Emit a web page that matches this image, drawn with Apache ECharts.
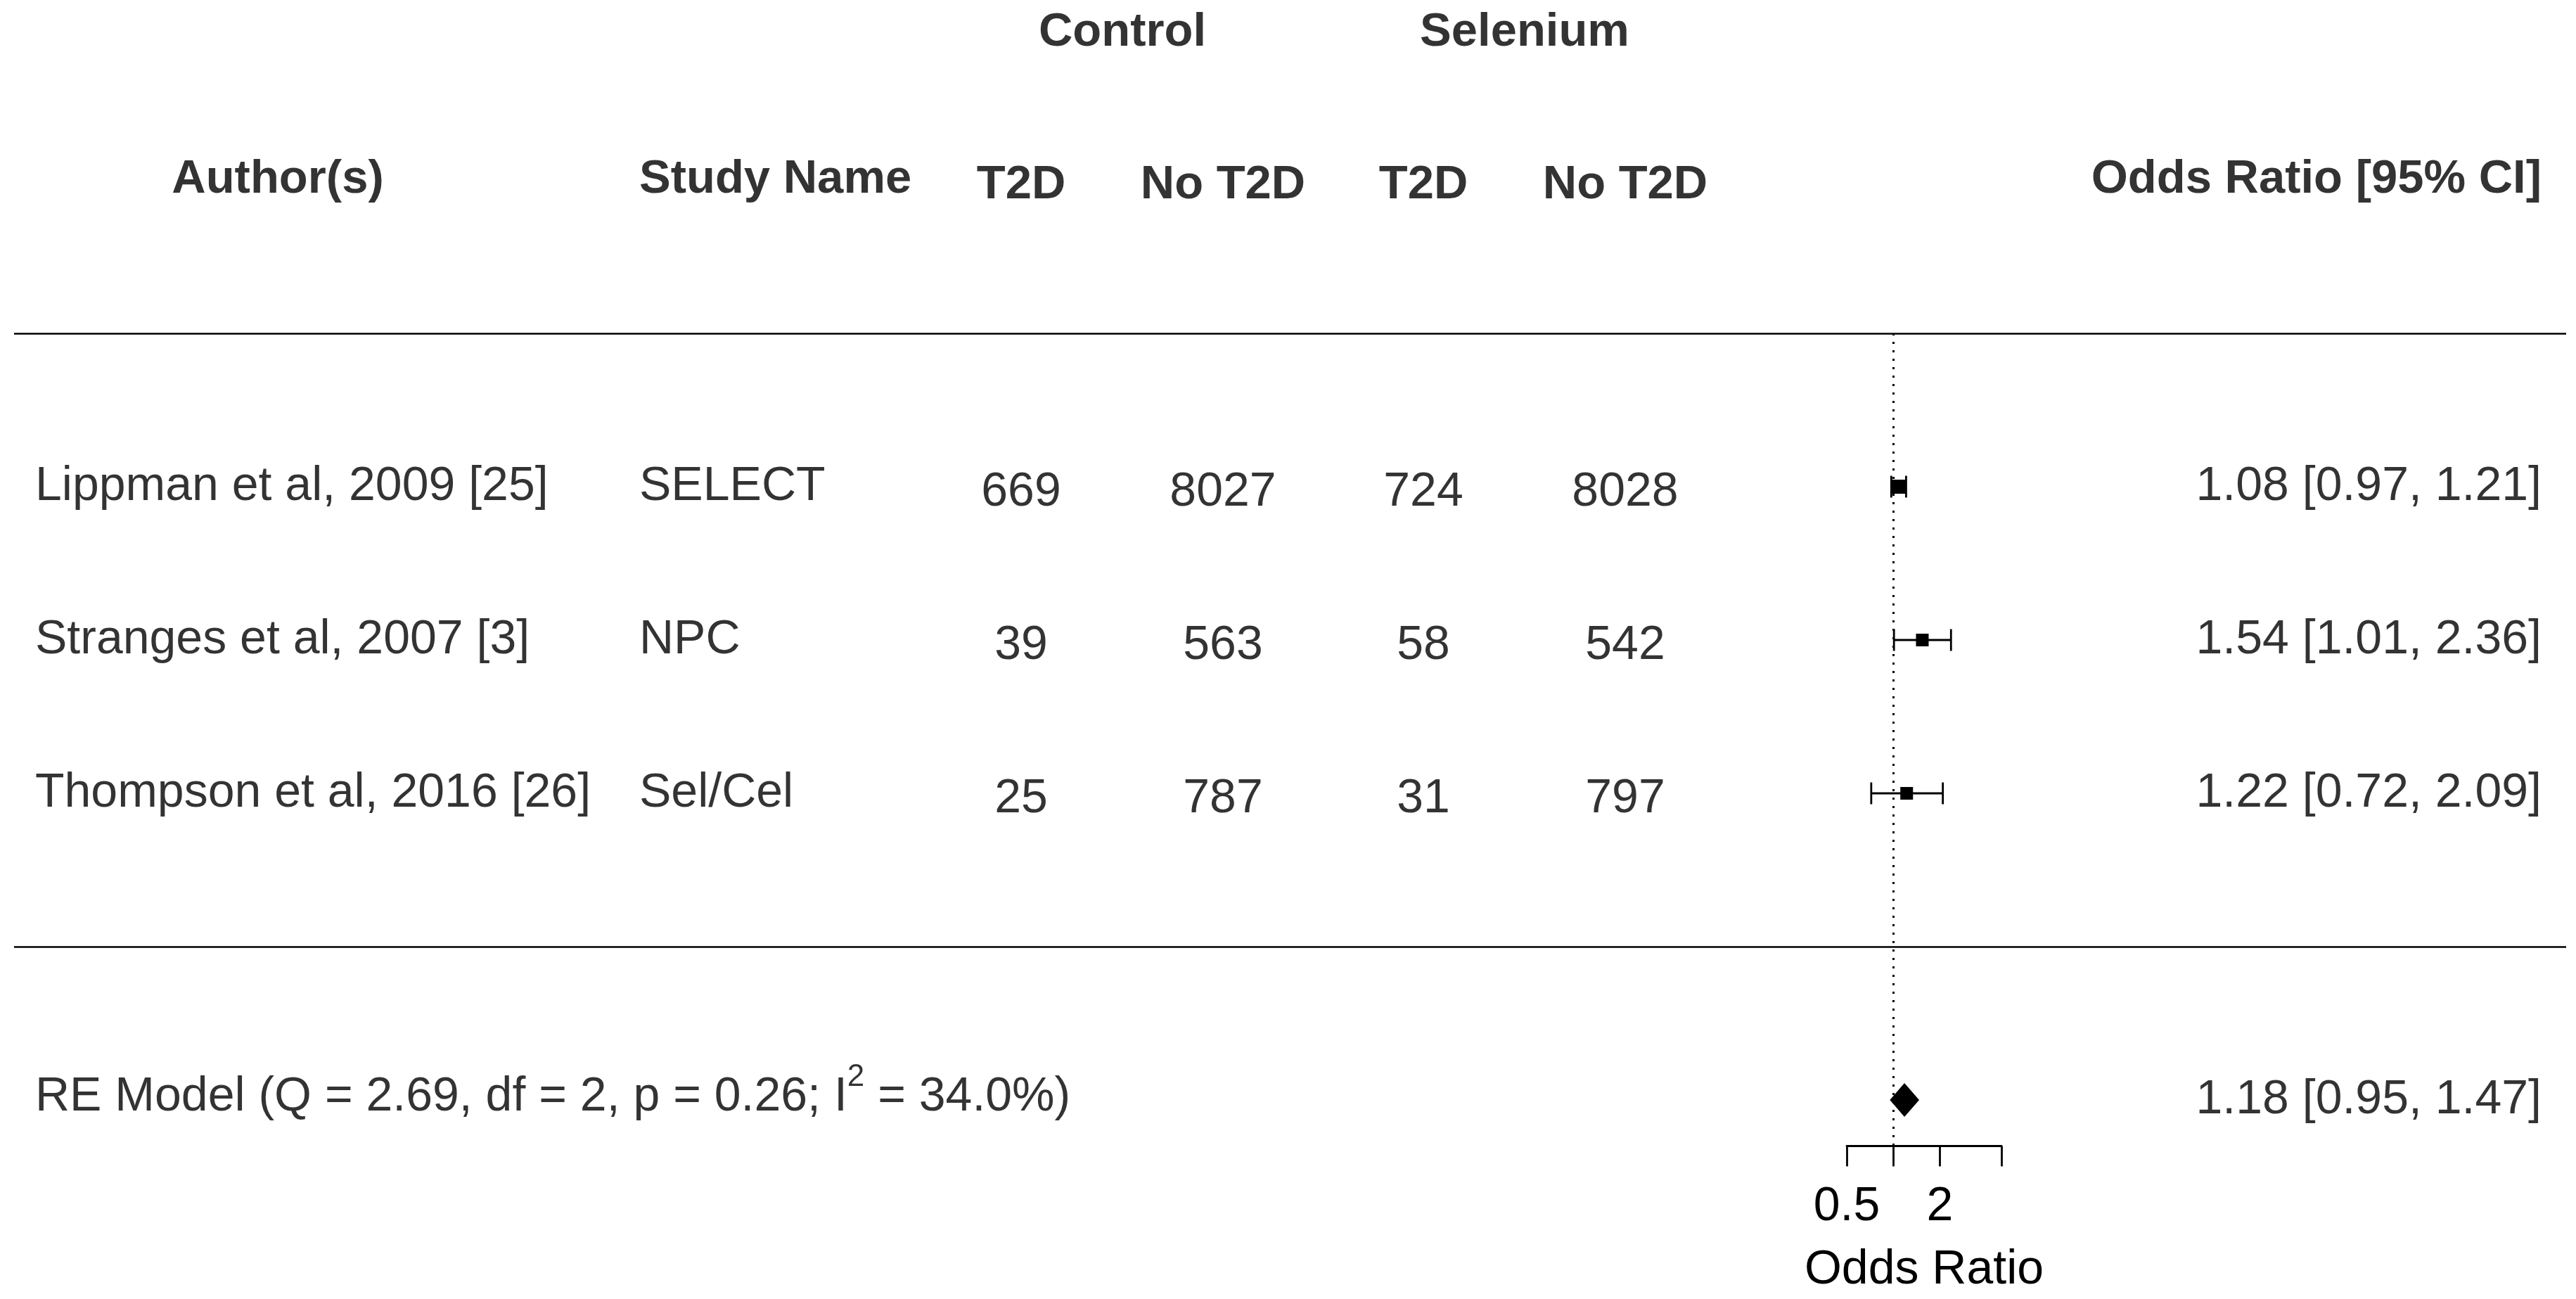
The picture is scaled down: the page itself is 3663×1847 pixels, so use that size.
<!DOCTYPE html>
<html>
<head>
<meta charset="utf-8">
<title>Forest plot - selenium and T2D</title>
<script src="https://cdn.jsdelivr.net/npm/echarts@6/dist/echarts.min.js"></script>
<style>
  html, body { margin: 0; padding: 0; background: #fff; }
  #main { width: 100vw; height: 100vh; }
</style>
</head>
<body>
<div id="main"></div>
<script>
// study data
const authors = ['Lippman et al, 2009 [25]', 'Stranges et al, 2007 [3]', 'Thompson et al, 2016 [26]'];
const studies = ['SELECT', 'NPC', 'Sel/Cel'];
const ctrlT2D = [669, 39, 25];
const ctrlNoT2D = [8027, 563, 787];
const selT2D = [724, 58, 31];
const selNoT2D = [8028, 542, 797];
const orEst = [1.08, 1.54, 1.22];
const orLow = [0.97, 1.01, 0.72];
const orHigh = [1.21, 2.36, 2.09];
const rowPos = [3, 2, 1];

// random effects summary
const reEst = 1.18;
const reLow = 0.95;
const reHigh = 1.47;
const reRow = -1;
const reStats = ['2.69', '2', '0.26', '34.0']; // Q, df, p, I^2

// axis
const tickValues = [0.5, 1, 2, 5];
const tickLabels = ['0.5', '', '2', ''];
const refValue = 1;

// layout (pixels)
var W = window.innerWidth, H = window.innerHeight;
var Y_MIN = -1.3, Y_MAX = 6.15;
var ROW_PX = 218, LINE4_PX = 474;
var gridTop = LINE4_PX - (Y_MAX - 4) * ROW_PX;
var gridBottom = H - (LINE4_PX + (4 - Y_MIN) * ROW_PX);
var COL = { author: 50, authorHead: 395, study: 909, c1: 1452, c2: 1739, s1: 2024, s2: 2311, ci: 3614 };
var TXT_SHIFT = 0;   // left / right columns
var NUM_SHIFT = 8;   // centred count columns
var FONT = '"Liberation Sans", Arial, Helvetica, sans-serif';
var boxSize = [20, 18, 18];

var chart = echarts.init(document.getElementById('main'), null, { renderer: 'canvas' });

function fmt(v) { return v.toFixed(2); }

function textSeries(data, align, bold, shift, size) {
    return {
        type: 'scatter',
        xAxisIndex: 1,
        yAxisIndex: 1,
        silent: true,
        clip: false,
        symbolSize: 1,
        itemStyle: { color: 'transparent' },
        data: data,
        label: {
            show: true,
            position: 'inside',
            align: align,
            verticalAlign: 'middle',
            offset: [0, shift],
            color: '#000',
            fontFamily: FONT,
            fontSize: size || (bold ? 67 : 68),
            fontWeight: bold ? 'bold' : 'normal',
            formatter: function (p) { return p.data[2]; }
        }
    };
}

var lnTicks = tickValues.map(function (v) { return Math.log(v); });
var lnLabelTicks = lnTicks.filter(function (v, i) { return tickLabels[i] !== ''; });

var ciData = rowPos.map(function (y, i) { return [Math.log(orLow[i]), Math.log(orHigh[i]), y]; });
var boxData = rowPos.map(function (y, i) {
    return { value: [Math.log(orEst[i]), y], symbolSize: boxSize[i] };
});

var headerRow = 5, groupRow = 6;

var series = [
    // CI lines with end caps
    {
        type: 'custom',
        xAxisIndex: 0,
        yAxisIndex: 0,
        silent: true,
        data: ciData,
        encode: { x: [0, 1], y: 2 },
        renderItem: function (params, api) {
            var lo = api.coord([api.value(0), api.value(2)]);
            var hi = api.coord([api.value(1), api.value(2)]);
            var h = 15.5;
            var st = { stroke: '#000', lineWidth: 2.8 };
            return {
                type: 'group',
                children: [
                    { type: 'line', shape: { x1: lo[0], y1: lo[1], x2: hi[0], y2: hi[1] }, style: st },
                    { type: 'line', shape: { x1: lo[0], y1: lo[1] - h, x2: lo[0], y2: lo[1] + h }, style: st },
                    { type: 'line', shape: { x1: hi[0], y1: hi[1] - h, x2: hi[0], y2: hi[1] + h }, style: st }
                ]
            };
        }
    },
    // point estimates + reference line
    {
        type: 'scatter',
        xAxisIndex: 0,
        yAxisIndex: 0,
        silent: true,
        symbol: 'rect',
        itemStyle: { color: '#000', opacity: 1 },
        data: boxData,
        markLine: {
            silent: true,
            symbol: 'none',
            label: { show: false },
            lineStyle: { color: '#000', width: 3, type: [3, 9] },
            data: [[{ coord: [Math.log(refValue), 4] }, { coord: [Math.log(refValue), Y_MIN] }]]
        }
    },
    // summary diamond
    {
        type: 'custom',
        xAxisIndex: 0,
        yAxisIndex: 0,
        silent: true,
        data: [[Math.log(reLow), Math.log(reEst), Math.log(reHigh), reRow]],
        encode: { x: [0, 2], y: 3 },
        renderItem: function (params, api) {
            var y = api.value(3);
            var l = api.coord([api.value(0), y]);
            var m = api.coord([api.value(1), y]);
            var r = api.coord([api.value(2), y]);
            var h = 24;
            return {
                type: 'polygon',
                shape: { points: [l, [m[0], m[1] - h], r, [m[0], m[1] + h]] },
                style: { fill: '#000' }
            };
        }
    },
    // horizontal rules
    {
        type: 'scatter',
        xAxisIndex: 1,
        yAxisIndex: 1,
        silent: true,
        data: [],
        markLine: {
            silent: true,
            symbol: 'none',
            label: { show: false },
            lineStyle: { color: '#000', width: 2.5, type: 'solid' },
            data: [{ yAxis: 4 }, { yAxis: 0 }]
        }
    },
    // headers
    textSeries([[COL.c1 + (COL.c2 - COL.c1) / 2 + 0.5, groupRow, 'Control'],
                [COL.s1 + (COL.s2 - COL.s1) / 2 + 0.5, groupRow, 'Selenium']], 'center', true, NUM_SHIFT + 1),
    textSeries([[COL.c1, headerRow, 'T2D'], [COL.c2, headerRow, 'No T2D'],
                [COL.s1, headerRow, 'T2D'], [COL.s2, headerRow, 'No T2D']], 'center', true, NUM_SHIFT),
    textSeries([[COL.authorHead, headerRow, 'Author(s)']], 'center', true, TXT_SHIFT),
    textSeries([[COL.study, headerRow, 'Study Name']], 'left', true, TXT_SHIFT),
    textSeries([[COL.ci, headerRow, 'Odds Ratio [95% CI]']], 'right', true, TXT_SHIFT),
    // study rows
    textSeries(rowPos.map(function (y, i) { return [COL.author, y, authors[i]]; }), 'left', false, TXT_SHIFT),
    textSeries(rowPos.map(function (y, i) { return [COL.study, y, studies[i]]; }), 'left', false, TXT_SHIFT),
    textSeries(rowPos.map(function (y, i) { return [COL.c1, y, String(ctrlT2D[i])]; }), 'center', false, NUM_SHIFT),
    textSeries(rowPos.map(function (y, i) { return [COL.c2, y, String(ctrlNoT2D[i])]; }), 'center', false, NUM_SHIFT),
    textSeries(rowPos.map(function (y, i) { return [COL.s1, y, String(selT2D[i])]; }), 'center', false, NUM_SHIFT),
    textSeries(rowPos.map(function (y, i) { return [COL.s2, y, String(selNoT2D[i])]; }), 'center', false, NUM_SHIFT),
    textSeries(rowPos.map(function (y, i) {
        return [COL.ci, y, fmt(orEst[i]) + ' [' + fmt(orLow[i]) + ', ' + fmt(orHigh[i]) + ']'];
    }), 'right', false, TXT_SHIFT),
    textSeries([[COL.ci, reRow, fmt(reEst) + ' [' + fmt(reLow) + ', ' + fmt(reHigh) + ']']], 'right', false, TXT_SHIFT)
];

// RE model label with superscript
var reLabel = textSeries([[COL.author, reRow, '']], 'left', false, -4);
reLabel.label.formatter = function () {
    return '{n|RE Model (Q = ' + reStats[0] + ', df = ' + reStats[1] + ', p = ' + reStats[2] +
        '; I}{s|2}{n| = ' + reStats[3] + '%)}';
};
reLabel.label.rich = {
    n: { fontFamily: FONT, fontSize: 68, lineHeight: 100, color: '#000' },
    s: { fontFamily: FONT, fontSize: 44, lineHeight: 44, verticalAlign: 'top', color: '#000' }
};
series.push(reLabel);

var option = {
    animation: false,
    backgroundColor: '#fff',
    grid: [
        { left: 2626, right: W - 2846, top: gridTop, bottom: gridBottom, containLabel: false },
        { left: 20, right: 14, top: gridTop, bottom: gridBottom, containLabel: false }
    ],
    xAxis: [
        {
            type: 'value',
            gridIndex: 0,
            position: 'bottom',
            min: Math.log(0.5),
            max: Math.log(5),
            name: 'Odds Ratio',
            nameLocation: 'middle',
            nameGap: 143,
            nameTextStyle: { color: '#000', fontFamily: FONT, fontSize: 68 },
            axisLine: { show: true, onZero: false, lineStyle: { color: '#000', width: 2.8 } },
            axisTick: { show: true, length: 29, customValues: lnTicks, lineStyle: { color: '#000', width: 2.8 } },
            axisLabel: {
                show: true,
                margin: 53,
                color: '#000',
                fontFamily: FONT,
                fontSize: 68,
                customValues: lnLabelTicks,
                formatter: function (v) {
                    for (var i = 0; i < lnTicks.length; i++) {
                        if (Math.abs(lnTicks[i] - v) < 1e-6) return tickLabels[i];
                    }
                    return '';
                }
            },
            splitLine: { show: false }
        },
        {
            type: 'value',
            gridIndex: 1,
            min: 20,
            max: W - 14,
            show: false
        }
    ],
    yAxis: [
        { type: 'value', gridIndex: 0, min: Y_MIN, max: Y_MAX, show: false },
        { type: 'value', gridIndex: 1, min: Y_MIN, max: Y_MAX, show: false }
    ],
    series: series
};

chart.setOption(option);

window.addEventListener('resize', function () {
    chart.resize();
});
</script>
</body>
</html>
